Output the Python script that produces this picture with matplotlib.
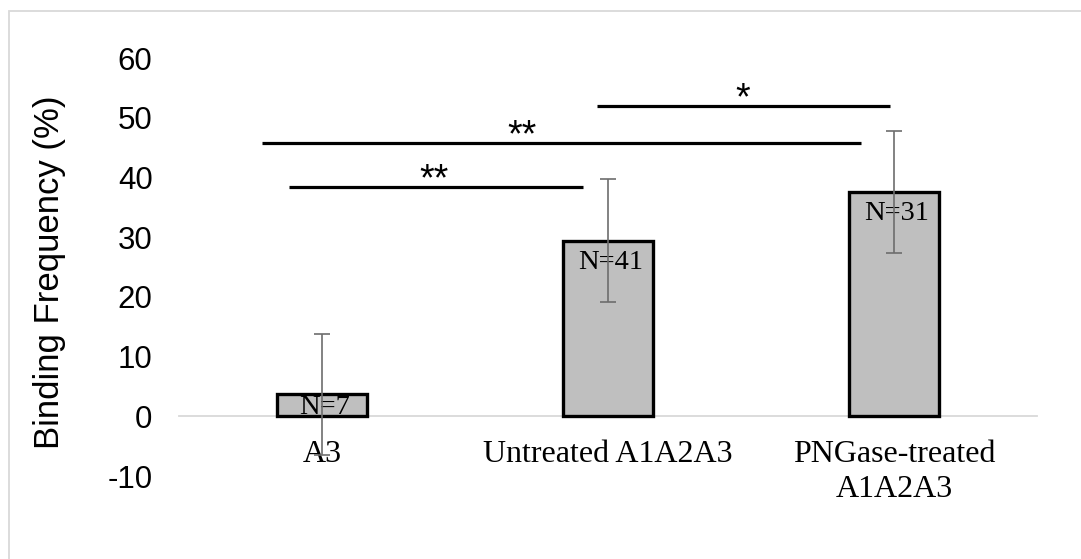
import matplotlib.pyplot as plt
import matplotlib.patches as mpatches
import numpy as np

plt.rcParams['axes.unicode_minus'] = False

# binding frequency per construct
groups = ['A3', 'Untreated A1A2A3', 'PNGase-treated\nA1A2A3']
freq = [3.7, 29.4, 37.5]
err = [10.1, 10.3, 10.2]
n_labels = ['N=7', 'N=41', 'N=31']

# significance brackets: (x start, x end, y, stars)
sig_x0 = [-0.115, -0.21, 0.962]
sig_x1 = [0.913, 1.885, 1.986]
sig_y = [38.4, 45.8, 52.0]
sig_stars = ['**', '**', '*']
star_x = [0.39, 0.70, 1.47]

fig = plt.figure(figsize=(10.81, 5.59), dpi=100)
ax = fig.add_axes([179/1081, 1 - 476/559, 858/1081, 418/559])

x = np.arange(len(groups))
ax.bar(x, freq, width=0.318, color='#bfbfbf', edgecolor='black', linewidth=2.4, zorder=2)
ax.errorbar(x, freq, yerr=err, fmt='none', ecolor='#6d6d6d', elinewidth=1.2,
            capsize=5.5, capthick=1.2, zorder=5)

# N labels just inside the top of each bar
for xi, v, lab in zip(x, freq, n_labels):
    yc = max(v - 3.6, v / 2 - 0.3)
    ax.text(xi + 0.01, yc, lab, ha='center', va='center', fontsize=20.5,
            family='Liberation Serif', zorder=4)

for a, b, y, s, sx in zip(sig_x0, sig_x1, sig_y, sig_stars, star_x):
    ax.plot([a, b], [y, y], color='black', lw=2.3, solid_capstyle='butt', clip_on=False)
    ax.annotate(s, (sx, y), xytext=(0, -2.5), textcoords='offset points',
                ha='center', va='baseline', fontsize=27, family='Liberation Sans')

ax.set_xlim(-0.5, 2.5)
ax.set_ylim(-10, 60)

for side in ['top', 'right', 'left']:
    ax.spines[side].set_visible(False)
ax.spines['bottom'].set_position(('data', 0))
ax.spines['bottom'].set_color('#d9d9d9')
ax.spines['bottom'].set_linewidth(1.3)
ax.spines['bottom'].set_zorder(1)

ax.set_yticks(range(-10, 61, 10))
ax.set_xticks(x)
ax.set_xticklabels(groups, family='Liberation Serif', fontsize=23, linespacing=1.3)
ax.tick_params(axis='x', length=0, pad=17)
ax.tick_params(axis='y', length=0, pad=19, labelsize=22.5)
for t in ax.get_yticklabels():
    t.set_family('Liberation Sans')

fig.text(50/1081, 1 - 272/559, 'Binding Frequency (%)', rotation=90, ha='center',
         va='center', fontsize=25, family='Liberation Sans')

# outer chart frame
fig.patches.append(mpatches.Rectangle((8.5/1081, -0.1), 1.2, 1.1 - 11/559,
                                      transform=fig.transFigure, fill=False,
                                      edgecolor='#d9d9d9', lw=1.3))

fig.savefig('out.png', dpi=100)
